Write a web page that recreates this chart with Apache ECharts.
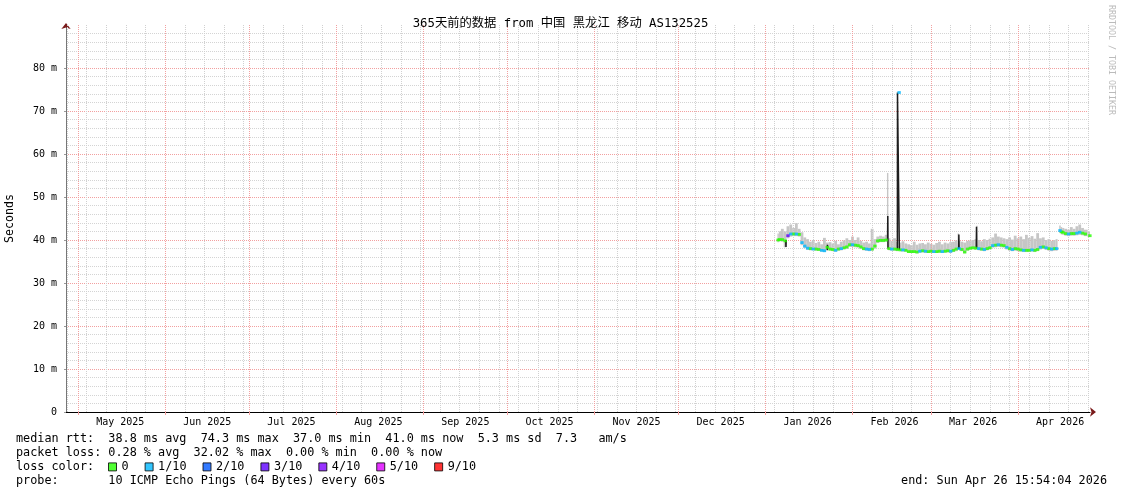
<!DOCTYPE html>
<html><head><meta charset="utf-8">
<script src="https://cdn.jsdelivr.net/npm/echarts@6/dist/echarts.min.js"></script>
<style>html,body{margin:0;padding:0;background:#fff}#c{width:1121px;height:494px}</style>
</head><body><div id="c"></div><script>
// ---------- data ----------
const titleText = '365天前的数据 from 中国 黑龙江 移动 AS132525';
const startTime = '2025-04-26 15:54:04';
const endTime = '2026-04-26 15:54:04';
const monthStarts = ['2025-05-01','2025-06-01','2025-07-01','2025-08-01','2025-09-01','2025-10-01','2025-11-01','2025-12-01','2026-01-01','2026-02-01','2026-03-01','2026-04-01'];
const monthLabelPos = ['2025-05-16','2025-06-16','2025-07-16','2025-08-16','2025-09-16','2025-10-16','2025-11-16','2025-12-16','2026-01-16','2026-02-16','2026-03-16','2026-04-16'];
const monthLabels = ['May 2025','Jun 2025','Jul 2025','Aug 2025','Sep 2025','Oct 2025','Nov 2025','Dec 2025','Jan 2026','Feb 2026','Mar 2026','Apr 2026'];
const firstWeekLine = '2025-04-27';
const yMax = 90, yStep = 10;

const times = [
'2026-01-05 12:00','2026-01-06','2026-01-07','2026-01-08','2026-01-09','2026-01-10','2026-01-11','2026-01-12','2026-01-13','2026-01-14',
'2026-01-15','2026-01-16','2026-01-17','2026-01-18','2026-01-19','2026-01-20','2026-01-21','2026-01-22','2026-01-23','2026-01-24',
'2026-01-25','2026-01-26','2026-01-27','2026-01-28','2026-01-29','2026-01-30','2026-01-31','2026-02-01','2026-02-02','2026-02-03',
'2026-02-04','2026-02-05','2026-02-06','2026-02-07','2026-02-08','2026-02-09','2026-02-10','2026-02-11','2026-02-12','2026-02-13',
'2026-02-13 14:00','2026-02-14','2026-02-15','2026-02-16','2026-02-17','2026-02-17 15:00','2026-02-18','2026-02-19','2026-02-20','2026-02-21',
'2026-02-22','2026-02-23','2026-02-24','2026-02-25','2026-02-26','2026-02-27','2026-02-28','2026-03-01','2026-03-02','2026-03-03',
'2026-03-04','2026-03-05','2026-03-06','2026-03-07','2026-03-08','2026-03-09','2026-03-10','2026-03-10 22:00','2026-03-11','2026-03-12',
'2026-03-13','2026-03-14','2026-03-15','2026-03-16','2026-03-17','2026-03-17 05:00','2026-03-18','2026-03-19','2026-03-20','2026-03-21',
'2026-03-22','2026-03-23','2026-03-24','2026-03-25','2026-03-26','2026-03-27','2026-03-28','2026-03-29','2026-03-30','2026-03-31',
'2026-04-01','2026-04-02','2026-04-03','2026-04-04','2026-04-05','2026-04-06','2026-04-07','2026-04-08','2026-04-09','2026-04-10',
'2026-04-11','2026-04-12','2026-04-13','2026-04-14','2026-04-14 19:00','2026-04-15 10:00','2026-04-15 23:00','2026-04-16 12:00','2026-04-17','2026-04-18',
'2026-04-19','2026-04-20','2026-04-21','2026-04-22','2026-04-23','2026-04-24','2026-04-25','2026-04-26 15:00'];
const median = [
40.0,40.1,40.1,39.8,41.0,41.4,41.4,41.4,41.3,39.4,
38.6,38.1,38.0,37.9,37.9,37.8,37.6,37.5,38.3,37.9,
37.8,37.6,37.9,38.0,38.2,38.4,38.9,38.9,38.8,38.7,
38.4,38.0,37.9,37.8,37.9,38.6,39.8,39.9,39.9,40.0,
'-',38.0,37.9,37.9,37.8,74.3,37.7,37.7,37.6,37.3,
37.3,37.3,37.2,37.4,37.5,37.4,37.3,37.4,37.3,37.3,
37.4,37.3,37.4,37.5,37.4,37.6,37.9,'-',38.0,37.8,
37.2,37.9,38.1,38.2,38.1,'-',38.0,37.9,37.8,38.0,
38.2,38.7,38.8,38.9,38.8,38.7,38.3,38.0,37.8,38.0,
37.9,37.7,37.6,37.6,37.6,37.7,37.6,37.8,38.3,38.4,
38.2,38.0,37.9,38.0,38.0,'-',42.2,41.9,41.8,41.5,
41.4,41.5,41.5,41.6,41.8,41.6,41.4,41.0];
const loss = [
0,0,0,0,3,1,0,1,0,1,
1,1,0,1,0,0,1,1,0,0,
0,1,0,1,0,0,0,1,0,0,
0,0,1,1,0,0,0,0,0,0,
0,0,1,0,0,1,0,1,0,0,
0,0,0,1,0,1,0,0,1,0,
0,1,0,0,1,0,0,0,1,0,
0,0,0,0,0,0,1,0,1,0,
0,1,0,1,0,0,1,0,1,0,
0,0,1,0,0,1,0,0,1,0,
1,0,1,0,1,0,1,0,0,0,
1,0,0,1,1,0,0,0];
const smokeLo = [
39.5,39.7,39.6,38.3,40.4,40.8,40.9,40.9,40.8,38.8,
38.1,37.7,37.6,37.6,37.5,37.5,37.3,37.2,37.8,37.5,
37.4,37.3,37.5,37.6,37.8,37.9,38.4,38.4,38.3,38.2,
37.9,37.6,37.5,37.4,37.5,38.0,39.3,39.5,39.5,39.6,
38.0,37.6,37.5,37.5,37.4,37.7,37.4,37.3,37.3,37.0,
37.0,37.0,36.9,37.0,37.1,37.0,37.0,37.0,37.0,37.0,
37.0,37.0,37.0,37.1,37.0,37.2,37.4,37.9,37.5,37.4,
36.9,37.5,37.7,37.8,37.7,38.0,37.6,37.5,37.4,37.6,
37.8,38.2,38.3,38.4,38.3,38.2,37.8,37.5,37.4,37.5,
37.4,37.3,37.2,37.2,37.2,37.3,37.2,37.4,37.8,37.9,
37.7,37.5,37.4,37.5,37.5,'-',41.6,41.3,41.2,41.0,
40.9,41.0,41.0,41.1,41.2,41.1,40.9,40.7];
const smokeHi = [
41.5,42.0,42.6,42.0,43.2,43.6,42.8,43.9,42.6,41.8,
40.6,40.2,39.6,40.0,39.3,39.6,39.0,40.5,39.4,39.5,
39.2,39.8,39.0,39.6,39.9,40.4,40.0,40.8,40.0,40.6,
39.8,39.4,39.6,39.2,42.6,40.2,40.8,41.0,40.8,41.2,
55.6,40.4,39.8,40.4,39.6,38.6,39.4,39.7,39.2,39.0,
38.8,39.6,38.9,39.2,39.3,39.0,39.4,39.1,38.9,39.3,
39.6,39.0,39.4,39.2,39.5,39.6,39.9,41.5,39.8,39.6,
39.4,39.8,39.9,40.0,40.2,43.3,40.0,39.7,40.2,40.0,
40.3,40.6,41.5,40.8,40.6,40.4,40.2,40.6,40.1,41.0,
40.4,40.8,40.2,41.2,40.5,40.9,40.3,41.6,40.4,40.6,
40.0,40.2,39.8,40.0,40.2,'-',43.4,43.0,42.8,42.6,
42.4,43.0,42.6,43.2,43.6,42.8,42.4,42.0];
// dark (concentrated) smoke spikes, '-' breaks the line
const darkTimes = ['2026-01-08 05:00','2026-01-08 07:00','2026-01-08 09:00','2026-01-08 10:00',
'2026-01-23 00:00','2026-01-23 02:00','2026-01-23 04:00','2026-01-23 05:00',
'2026-02-13 12:00','2026-02-13 14:00','2026-02-13 16:00','2026-02-13 17:00',
'2026-02-17 00:00','2026-02-17 01:00','2026-02-17 16:00','2026-02-17 17:00','2026-02-17 18:00',
'2026-03-10 20:00','2026-03-10 22:00','2026-03-11 00:00','2026-03-11 01:00',
'2026-03-17 03:00','2026-03-17 05:00','2026-03-17 07:00'];
const darkValues = [40.0,38.4,40.0,'-', 37.6,38.9,38.3,'-', 40.0,45.6,38.0,'-', 37.8,74.3,74.3,37.7,'-', 37.9,41.3,38.0,'-', 38.1,43.1,38.0];

const lossNames = ['0','1/10','2/10','3/10','4/10','5/10','9/10'];
const lossLevels = [0,1,2,3,4,5,9];
const lossColors = ['#26ff00','#00b8ff','#0059ff','#5e00ff','#7e00ff','#dd00ff','#ff0000'];
const rttStats = ['38.8','74.3','37.0','41.0','5.3','7.3'];
const lossStats = ['0.28','32.02','0.00','0.00'];
const probeText = '10 ICMP Echo Pings (64 Bytes) every 60s';
const endText = 'end: Sun Apr 26 15:54:04 2026';
const creditText = 'RRDTOOL / TOBI OETIKER';

// ---------- helpers ----------
const ts = s => { const [d, t = '00:00'] = s.split(' '); const [Y,M,D] = d.split('-').map(Number); const [h,m,sec=0] = t.split(':').map(Number); return new Date(Y,M-1,D,h,m,sec).getTime(); };
const MONO = '"DejaVu Sans Mono", "Noto Sans CJK SC", monospace';
const labelMap = {}; monthLabelPos.forEach((s,i)=>{ labelMap[ts(s)] = monthLabels[i]; });

// grid lines: weekly (Sundays) + monthly
const gridLines = [];
{ const d = new Date(ts(firstWeekLine)); const end = ts(endTime);
  while (d.getTime() < end) { gridLines.push({xAxis: d.getTime(), lineStyle:{color:'#d0d0d0', type:'dotted', width:1}}); d.setDate(d.getDate()+7); } }
monthStarts.forEach(s => gridLines.push({xAxis: ts(s), lineStyle:{color:'#f2a0a0', type:'dotted', width:1}}));

// smoke steps: each sample spans half-way to its neighbours
const T = times.map(ts);
const smokeData = [];
T.forEach((t,i) => {
  if (smokeLo[i] === '-') return;
  const a = i > 0 ? (T[i-1] + t) / 2 : t - 6*3600e3;
  const b = i < T.length-1 ? (T[i+1] + t) / 2 : ts(endTime);
  smokeData.push([a, b, smokeLo[i], smokeHi[i]]);
});
const dark = darkTimes.map((t,i)=>[ts(t), darkValues[i]]);

const lossSeries = lossNames.map((name, k) => ({
  name, type:'scatter', symbol:'rect', symbolSize:[3.4,2.8], z:5,
  itemStyle:{color: lossColors[k]},
  data: T.map((t,i)=> (loss[i]===lossLevels[k] && median[i] !== '-') ? [t, median[i]] : null).filter(Boolean)
}));

const rttLine = 'median rtt:  ' + `${rttStats[0]} ms avg  ${rttStats[1]} ms max  ${rttStats[2]} ms min  ${rttStats[3]} ms now  ${rttStats[4]} ms sd  ${rttStats[5]}   am/s`;
const lossLine = 'packet loss: ' + `${lossStats[0]} % avg  ${lossStats[1]} % max  ${lossStats[2]} % min  ${lossStats[3]} % now`;
const probeLine = 'probe:       ' + probeText;
const FONT = '11.8px ' + MONO;

const chart = echarts.init(document.getElementById('c'), null, {renderer:'canvas'});
chart.setOption({
  animation:false,
  backgroundColor:'#fff',
  title:{text:titleText, left:'center', top:13, textStyle:{fontFamily:MONO, fontSize:12.3, fontWeight:'normal', color:'#000'}},
  grid:{left:66, top:25, width:1024, height:387, containLabel:false, outerBoundsMode:'none'},
  legend:{left:108, top:461, padding:0, data:lossNames, icon:'rect', itemWidth:8, itemHeight:8, itemGap:16, selectedMode:false,
    itemStyle:{borderColor:'#000', borderWidth:1},
    textStyle:{fontFamily:MONO, fontSize:11.8, color:'#000'}},
  xAxis:[{
    type:'value', min:ts(startTime), max:ts(endTime),
    axisLine:{show:true, lineStyle:{color:'#000', width:1}},
    axisTick:{show:true, customValues: monthStarts.map(ts), length:3, lineStyle:{color:'#f2a0a0'}},
    axisLabel:{show:true, customValues: monthLabelPos.map(ts), formatter: v => labelMap[v] || '', margin:5,
      fontFamily:MONO, fontSize:10, color:'#000', hideOverlap:false, showMinLabel:true, showMaxLabel:true},
    splitLine:{show:false}
  },{
    type:'value', min:ts(startTime), max:ts(endTime), position:'bottom',
    axisLine:{show:true, symbol:['none','arrow'], symbolSize:[7,6], symbolOffset:[0,6], lineStyle:{color:'#7a1a1a', width:0}},
    axisTick:{show:false}, axisLabel:{show:false}, splitLine:{show:false}
  }],
  yAxis:[{
    type:'value', min:0, max:yMax, interval:yStep,
    name:'Seconds', nameLocation:'middle', nameGap:50, nameTextStyle:{fontFamily:MONO, fontSize:11.6, color:'#000'},
    axisLine:{show:true, lineStyle:{color:'#777', width:1}},
    axisTick:{show:true, length:2, lineStyle:{color:'#999'}},
    axisLabel:{formatter: v => v === 0 ? '0' : v + ' m', showMaxLabel:false, margin:9, fontFamily:MONO, fontSize:10, color:'#000'},
    splitLine:{show:true, showMinLine:false, showMaxLine:false, lineStyle:{type:'dotted', color:'#f2a0a0'}},
    minorTick:{show:false, splitNumber:5},
    minorSplitLine:{show:true, lineStyle:{type:'dotted', color:'#d4d4d4'}}
  },{
    type:'value', min:0, max:yMax, position:'left',
    axisLine:{show:true, symbol:['none','arrow'], symbolSize:[7,6], symbolOffset:[0,2], lineStyle:{color:'#7a1a1a', width:0}},
    axisTick:{show:false}, axisLabel:{show:false}, splitLine:{show:false}
  }],
  series:[
    {name:'gridlines', type:'line', data:[[T[0], median[0]]], showSymbol:false, symbol:'none', z:1,
     lineStyle:{width:0, opacity:0}, silent:true,
     markLine:{silent:true, symbol:['none','none'], label:{show:false}, data:gridLines, animation:false}},
    {name:'smoke', type:'custom', z:2, silent:true, data:smokeData,
     encode:{x:[0,1], y:[2,3]},
     renderItem:(params, api) => {
       const p0 = api.coord([api.value(0), api.value(3)]);
       const p1 = api.coord([api.value(1), api.value(2)]);
       return {type:'rect', shape:{x:p0[0], y:p0[1], width:Math.max(p1[0]-p0[0], 0.8), height:Math.max(p1[1]-p0[1], 0.8)},
               style:{fill:'#c6c6c6'}};
     }},
    {name:'dark', type:'line', data:dark, showSymbol:false, symbol:'none', z:3, connectNulls:false,
     lineStyle:{color:'#1e1e1e', width:1.5}, silent:true}
  ].concat(lossSeries),
  graphic:[
    {type:'text', x:16, y:439, style:{text:rttLine, font:FONT, fill:'#000', verticalAlign:'middle'}},
    {type:'text', x:16, y:453, style:{text:lossLine, font:FONT, fill:'#000', verticalAlign:'middle'}},
    {type:'text', x:16, y:467, style:{text:'loss color:', font:FONT, fill:'#000', verticalAlign:'middle'}},
    {type:'text', x:16, y:481, style:{text:probeLine, font:FONT, fill:'#000', verticalAlign:'middle'}},
    {type:'text', x:1107, y:481, style:{text:endText, font:FONT, fill:'#000', align:'right', verticalAlign:'middle'}},
    {type:'text', x:1111, y:5, rotation:-Math.PI/2, style:{text:creditText, font:'8.3px ' + MONO, fill:'#bbbbbb', align:'left', verticalAlign:'middle'}}
  ]
});
</script></body></html>
